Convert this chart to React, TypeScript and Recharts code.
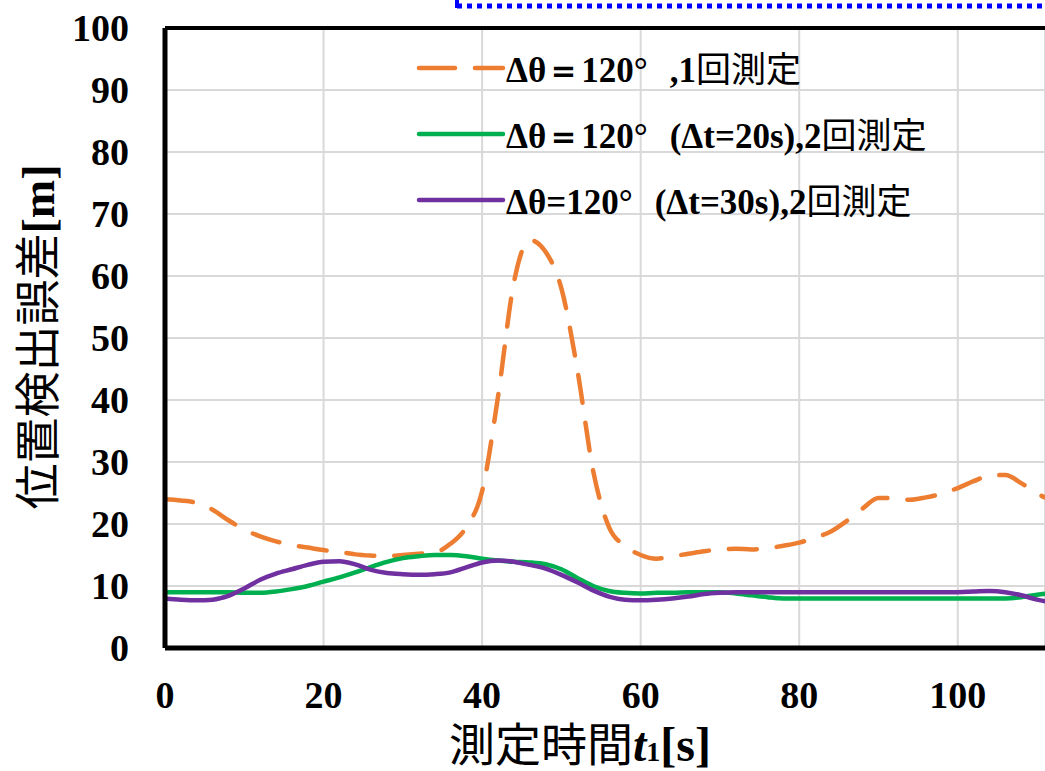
import React from "react";
import { LineChart, Line, XAxis, YAxis, CartesianGrid, ReferenceLine } from "recharts";

const times = [0, 2, 4, 6, 8, 10, 12, 14, 16, 18, 20, 22, 24, 26, 28, 30, 32, 34, 36, 38, 40, 42, 44, 46, 48, 50, 52, 54, 56, 58, 60, 62, 64, 66, 68, 70, 72, 74, 76, 78, 80, 82, 84, 86, 88, 90, 92, 94, 96, 98, 100, 102, 104, 106, 108, 110, 112];

const once120 = [24.0, 23.8, 23.4, 22.3, 20.6, 19.1, 18.0, 17.2, 16.6, 16.2, 15.8, 15.5, 15.1, 14.9, 14.8, 15.0, 15.2, 15.4, 16.8, 19.5, 25.3, 40.5, 58.9, 65.8, 63.9, 58.0, 45.0, 28.6, 19.5, 16.5, 15.0, 14.4, 14.8, 15.2, 15.6, 15.9, 16.0, 15.9, 16.1, 16.5, 17.0, 17.8, 18.8, 20.5, 22.5, 24.2, 24.2, 23.9, 24.3, 24.9, 25.8, 26.9, 27.8, 27.9, 26.6, 24.9, 23.8];

const twice20 = [9.0, 9.0, 9.0, 9.0, 9.0, 8.9, 8.9, 9.1, 9.5, 10.0, 10.7, 11.4, 12.2, 13.1, 13.9, 14.5, 14.8, 15.0, 15.0, 14.8, 14.4, 14.1, 13.9, 13.8, 13.5, 12.7, 11.3, 10.0, 9.2, 8.9, 8.8, 8.9, 8.9, 9.0, 9.0, 9.0, 8.8, 8.5, 8.2, 8.0, 8.0, 8.0, 8.0, 8.0, 8.0, 8.0, 8.0, 8.0, 8.0, 8.0, 8.0, 8.0, 8.0, 8.0, 8.2, 8.6, 8.9];

const twice30 = [8.0, 7.8, 7.7, 7.8, 8.4, 9.6, 11.0, 12.0, 12.7, 13.4, 13.9, 14.0, 13.5, 12.6, 12.1, 11.9, 11.8, 11.9, 12.2, 13.0, 13.8, 14.1, 13.9, 13.4, 12.8, 11.8, 10.6, 9.3, 8.3, 7.8, 7.7, 7.8, 8.0, 8.3, 8.7, 8.9, 9.0, 9.0, 9.0, 9.0, 9.0, 9.0, 9.0, 9.0, 9.0, 9.0, 9.0, 9.0, 9.0, 9.0, 9.0, 9.1, 9.2, 9.0, 8.5, 7.8, 7.3];

const xTicks = [0, 20, 40, 60, 80, 100];
const yTicks = [0, 10, 20, 30, 40, 50, 60, 70, 80, 90, 100];

const seriesNames = [
  { key: "a", label1: "Δθ＝120°", label2: ",1", kanji: "回測定", color: "#ED7D31", dash: "28 20" },
  { key: "b", label1: "Δθ＝120°", label2: "(Δt=20s),2", kanji: "回測定", color: "#00B050", dash: undefined },
  { key: "c", label1: "Δθ=120°", label2: "(Δt=30s),2", kanji: "回測定", color: "#7030A0", dash: undefined },
];

const data = times.map((t, i) => ({ t, a: once120[i], b: twice20[i], c: twice30[i] }));

const SERIF = "'Liberation Serif', 'Times New Roman', serif";
const CJK = "'Noto Sans CJK JP', sans-serif";

export default function App() {
  const tickStyle = { fontSize: 38, fontWeight: "bold", fill: "#000", fontFamily: SERIF };
  return (
    <div style={{ position: "absolute", left: 0, top: 0, width: 1045, height: 771, background: "#fff", overflow: "hidden" }}>
      <LineChart width={1045} height={771} data={data} margin={{ top: 28, right: 0, bottom: 0, left: 0 }}>
        <CartesianGrid stroke="#d9d9d9" strokeWidth={2} />
        <XAxis
          dataKey="t"
          type="number"
          domain={[0, 111]}
          ticks={xTicks}
          allowDataOverflow
          height={123}
          tickSize={0}
          tickMargin={33}
          tickLine={false}
          axisLine={{ stroke: "#000", strokeWidth: 5 }}
          tick={tickStyle}
        />
        <YAxis
          type="number"
          domain={[0, 100]}
          ticks={yTicks}
          width={165}
          tickSize={0}
          tickMargin={36}
          tickLine={false}
          axisLine={{ stroke: "#000", strokeWidth: 5 }}
          tick={tickStyle}
        />
        <ReferenceLine y={100} stroke="#000" strokeWidth={4} />
        {seriesNames.map((s) => (
          <Line
            key={s.key}
            dataKey={s.key}
            type="monotone"
            stroke={s.color}
            strokeWidth={4.5}
            strokeDasharray={s.dash}
            strokeLinecap="round"
            dot={false}
            activeDot={false}
            isAnimationActive={false}
          />
        ))}
      </LineChart>
      <svg width={1045} height={771} style={{ position: "absolute", left: 0, top: 0, pointerEvents: "none" }}>
        <line x1={457} y1={6} x2={1045} y2={6} stroke="#0000FF" strokeWidth={5} strokeDasharray="5 5" />
        <line x1={457} y1={0} x2={457} y2={8} stroke="#0000FF" strokeWidth={4} />
        {seriesNames.map((s, i) => {
          const cy = 68 + i * 66;
          return (
            <g key={s.key}>
              <line x1={419} y1={cy} x2={503} y2={cy} stroke={s.color} strokeWidth={4.5} strokeLinecap="round" strokeDasharray={s.dash ? "36 20" : undefined} />
              <text x={506} y={cy + 14} fontSize={35} fill="#000" fontFamily={SERIF} fontWeight="bold">
                <tspan>{s.label1}</tspan>
                <tspan dx={22}>{s.label2}</tspan>
                <tspan fontFamily={CJK} fontWeight="normal">{s.kanji}</tspan>
              </text>
            </g>
          );
        })}
        <text x={580} y={761} textAnchor="middle" fontSize={46} fill="#000">
          <tspan fontFamily={CJK}>測定時間</tspan>
          <tspan fontFamily={SERIF} fontStyle="italic" fontWeight="bold" fontSize={48}>t</tspan>
          <tspan fontFamily={SERIF} fontWeight="bold" fontSize={28}>1</tspan>
          <tspan fontFamily={SERIF} fontWeight="bold" fontSize={48}>[s]</tspan>
        </text>
        <text x={0} y={0} transform="translate(54 337) rotate(-90)" textAnchor="middle" fontSize={46} fill="#000">
          <tspan fontFamily={CJK}>位置検出誤差</tspan>
          <tspan fontFamily={SERIF} fontWeight="bold">[m]</tspan>
        </text>
      </svg>
    </div>
  );
}
